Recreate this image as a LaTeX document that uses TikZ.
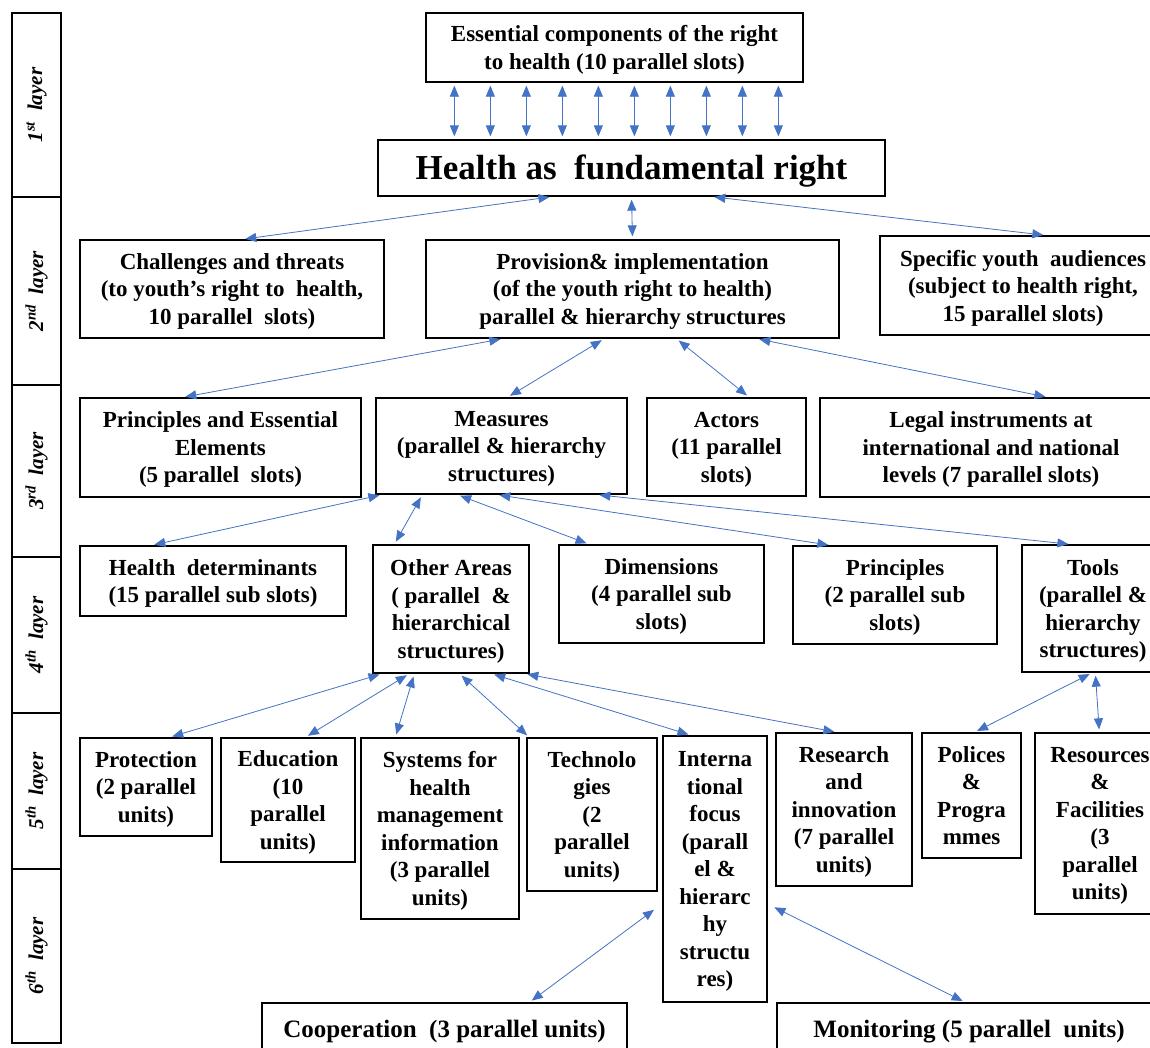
\documentclass[tikz,border=0pt]{standalone}
\usepackage{fontspec}
\setmainfont{Liberation Serif}
\usepackage{tikz}
\usetikzlibrary{arrows.meta}
\definecolor{arrblue}{HTML}{4472C4}
\tikzset{
  box/.style    ={draw, line width=1.3pt, inner sep=0pt, align=center,
                  text depth=-1pt,
                  font=\fontsize{23}{27.5}\selectfont\bfseries},
  bigbox/.style ={box, text depth=1.5pt, font=\fontsize{35}{40}\selectfont\bfseries},
  widebox/.style={box, font=\fontsize{25}{30}\selectfont\bfseries},
  sz/.style 2 args={minimum width=#1pt, minimum height=#2pt},
  laybox/.style ={draw, line width=1.3pt, inner sep=0pt, rotate=90,
                  minimum height=49pt,
                  font=\fontsize{21}{24}\selectfont\bfseries\itshape},
  anc/.style    ={{Triangle[length=11pt,width=9pt]}-{Triangle[length=11pt,width=9pt]},
                  line width=0.8pt, arrblue, shorten <=3pt, shorten >=3pt},
}

\begin{document}
\begin{tikzpicture}[x=1pt, y=-1pt]
  \useasboundingbox (0,0) rectangle (1150,1047);
  \clip (0,0) rectangle (1150,1047);

  % layer column
  \foreach \n/\suf/\ytop/\ybot in {1/st/13/197, 2/nd/197/385, 3/rd/385/557,
                                   4/th/557/713, 5/th/713/869, 6/th/869/1043}
    \node[laybox, minimum width={(\ybot-\ytop)*1pt}] (lay\n)
      at (36.5,{(\ytop+\ybot)/2}) {\n\textsuperscript{\suf}\ \ layer};

  % 1st layer
  \node[box, sz={377}{69}] (ess) at (614.5,47.5)
    {Essential components of the right\\to health (10 parallel slots)};
  \node[bigbox, sz={507}{56}] (hlth) at (631.5,168) {Health as\ \ fundamental right};
  \foreach \i in {0,...,9}
    \draw[anc] ([xshift={(29+36*\i)*1pt}]ess.south west)
            -- ([xshift={(77+36*\i)*1pt}]hlth.north west);

  % 2nd layer
  \node[box, sz={304}{98}] (chal) at (232,289)
    {Challenges and threats\\(to youth’s right to\ \ health,\\10 parallel\ \ slots)};
  \node[box, sz={413}{98}] (prov) at (632.5,289)
    {Provision\& implementation\\(of the youth right to health)\\parallel \& hierarchy structures};
  \node[box, sz={286}{99}] (spec) at (1023,285.5)
    {Specific youth\ \ audiences\\(subject to health right,\\15 parallel slots)};
  \draw[anc] ([xshift=175pt]hlth.south west) -- ([xshift=163pt]chal.north west);
  \draw[anc] (hlth.south) -- (prov.north);
  \draw[anc] ([xshift=334pt]hlth.south west) -- ([xshift=167pt]spec.north west);

  % 3rd layer
  \node[box, sz={281}{99}] (prin) at (220.5,447.5)
    {Principles and Essential\\Elements\\(5 parallel\ \ slots)};
  \node[box, sz={251}{96}] (meas) at (501.5,446)
    {Measures\\(parallel \& hierarchy\\structures)};
  \node[box, sz={159}{98}] (act) at (726.5,447) {Actors\\(11 parallel\\slots)};
  \node[box, sz={342}{99}] (legal) at (991,447.5)
    {Legal instruments at\\international and national\\levels (7 parallel slots)};
  \draw[anc] ([xshift=78pt]prov.south west) -- ([xshift=103pt]prin.north west);
  \draw[anc] ([xshift=179pt]prov.south west) -- ([xshift=132pt]meas.north west);
  \draw[anc] ([xshift=251pt]prov.south west) -- ([xshift=103pt]act.north west);
  \draw[anc] ([xshift=331pt]prov.south west) -- ([xshift=229pt]legal.north west);

  % 4th layer
  \node[box, sz={266}{70}] (hdet) at (213,581)
    {Health\ \ determinants\\(15 parallel sub slots)};
  \node[box, sz={156}{128}] (oth) at (451,609)
    {Other Areas\\( parallel\ \ \&\\hierarchical\\structures)};
  \node[box, sz={205}{98}] (dim) at (661.5,594) {Dimensions\\(4 parallel sub\\slots)};
  \node[box, sz={204}{98}] (princ) at (895,595) {Principles\\(2 parallel sub\\slots)};
  \node[box, sz={142}{127}] (tools) at (1093,608.5)
    {Tools\\(parallel \&\\hierarchy\\structures)};
  \draw[anc] ([xshift=7pt]meas.south west) -- ([xshift=72pt]hdet.north west);
  \draw[anc] ([xshift=47pt]meas.south west) -- ([xshift=22pt]oth.north west);
  \draw[anc] ([xshift=82pt]meas.south west) -- ([xshift=31pt]dim.north west);
  \draw[anc] ([xshift=121pt]meas.south west) -- ([xshift=39pt]princ.north west);
  \draw[anc] ([xshift=221pt]meas.south west) -- ([xshift=50pt]tools.north west);

  % 5th layer
  \node[box, sz={132}{98}] (prot) at (146,787) {Protection\\(2 parallel\\units)};
  \node[box, sz={134}{124}] (edu) at (288,800) {Education\\(10\\parallel\\units)};
  \node[box, sz={158}{181}] (sys) at (440,828.5)
    {Systems for\\health\\management\\information\\(3 parallel\\units)};
  \node[box, sz={130}{153}] (tech) at (592,814.5) {Technolo\\gies\\(2\\parallel\\units)};
  \node[box, sz={104}{266}] (intl) at (715,869)
    {Interna\\tional\\focus\\(parall\\el \&\\hierarc\\hy\\structu\\res)};
  \node[box, sz={136}{153}] (res) at (844,809.5)
    {Research\\and\\innovation\\(7 parallel\\units)};
  \node[box, sz={99}{125}] (pol) at (971.5,795.5) {Polices\\\&\\Progra\\mmes};
  \node[box, sz={130}{181}] (resf) at (1100,823.5)
    {Resources\\\&\\Facilities\\(3\\parallel\\units)};
  \draw[anc] ([xshift=10pt]oth.south west) -- ([xshift=90pt]prot.north west);
  \draw[anc] ([xshift=37pt]oth.south west) -- ([xshift=85pt]edu.north west);
  \draw[anc] ([xshift=42pt]oth.south west) -- ([xshift=35pt]sys.north west);
  \draw[anc] ([xshift=87pt]oth.south west) -- ([xshift=3pt]tech.north west);
  \draw[anc] ([xshift=119pt]oth.south west) -- ([xshift=29pt]intl.north west);
  \draw[anc] ([xshift=152pt]oth.south west) -- ([xshift=62pt]res.north west);
  \draw[anc] ([xshift=71pt]tools.south west) -- ([xshift=53pt]pol.north west);
  \draw[anc] ([xshift=74pt]tools.south west) -- ([xshift=65pt]resf.north west);

  % 6th layer
  \node[widebox, sz={365}{52}] (coop) at (444.5,1029) {Cooperation\ \ (3 parallel units)};
  \node[widebox, sz={384}{52}] (mon) at (969,1029) {Monitoring (5 parallel\ \ units)};
  \draw[anc] ([xshift=-6pt,yshift=-39pt]intl.west) -- ([xshift=268pt]coop.north west);
  \draw[anc] ([xshift=4pt,yshift=-37pt]intl.east) -- ([xshift=189pt]mon.north west);
\end{tikzpicture}
\end{document}
